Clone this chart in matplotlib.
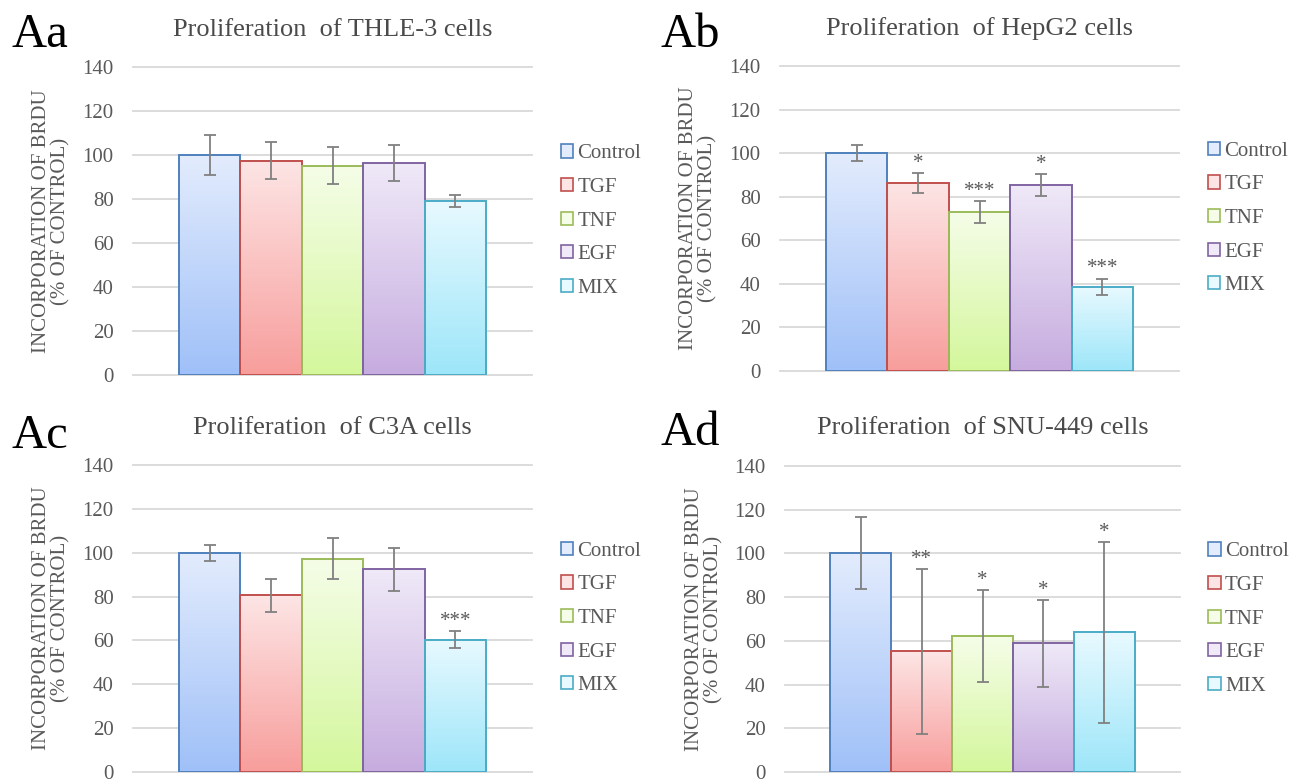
import numpy as np
import matplotlib
matplotlib.use("Agg")
import matplotlib.pyplot as plt
from matplotlib.colors import LinearSegmentedColormap
from matplotlib.patches import Rectangle

plt.rcParams['font.family'] = ['Liberation Serif', 'DejaVu Serif']

# data
groups = ['Control', 'TGF', 'TNF', 'EGF', 'MIX']

thle3 = [100, 97.5, 95.2, 96.3, 79.1]
thle3_err = [9.0, 8.5, 8.6, 8.1, 2.7]
thle3_stars = ['', '', '', '', '']

hepg2 = [100, 86.2, 72.9, 85.4, 38.7]
hepg2_err = [3.7, 4.5, 5.1, 5.1, 3.7]
hepg2_stars = ['', '*', '***', '*', '***']

c3a = [100, 80.6, 97.3, 92.5, 60.3]
c3a_err = [3.7, 7.5, 9.2, 9.8, 3.8]
c3a_stars = ['', '', '', '', '***']

snu449 = [100, 55.2, 62.1, 58.9, 63.9]
snu449_err = [16.5, 37.6, 21.0, 19.8, 41.3]
snu449_stars = ['', '**', '*', '*', '*']

yticks = [0, 20, 40, 60, 80, 100, 120, 140]

# (top colour, bottom colour, edge colour)
colors = [('#e3ecfd', '#9fc0f8', '#4f81bd'),
          ('#fde5e5', '#f79e9c', '#c0504d'),
          ('#f5fde8', '#d4f79c', '#9bbb59'),
          ('#efe9f8', '#c6acdf', '#8064a2'),
          ('#e8f9ff', '#9de6f9', '#4bacc6')]

TXT = '#595959'


def plot_panel(ax, vals, errs, stars, title, tag, tag_xy):
    x = np.arange(len(groups))
    bars = ax.bar(x, vals, width=1.0, facecolor='none', zorder=3)
    for b, (top, bot, edge) in zip(bars, colors):
        b.set_edgecolor(edge)
        b.set_linewidth(1.4)
        cmap = LinearSegmentedColormap.from_list('g', [top, bot])
        grad = np.linspace(0, 1, 256).reshape(-1, 1)
        im = ax.imshow(grad, cmap=cmap, aspect='auto', interpolation='bicubic',
                       extent=[b.get_x(), b.get_x() + b.get_width(), 0, b.get_height()],
                       zorder=2)
        im.set_clip_path(b)
    ax.errorbar(x, vals, yerr=errs, fmt='none', ecolor='#808080', elinewidth=1.3,
                capsize=4, capthick=1.3, zorder=4)
    for xi, v, e, s in zip(x, vals, errs, stars):
        if s:
            ax.annotate(s, xy=(xi, v + e), xytext=(0, 7), textcoords='offset points',
                        ha='center', va='center', fontsize=15, color=TXT)

    ax.set_xlim(-1.245, len(groups) - 1 + 1.245)
    ax.set_ylim(0, 140)
    ax.set_yticks(yticks)
    ax.set_xticks([])
    for t in yticks:
        ax.axhline(t, color='#d9d9d9', lw=1.3, zorder=0, clip_on=False)
    ax.tick_params(axis='y', length=0, pad=14, labelsize=15, labelcolor=TXT)
    for s in ax.spines.values():
        s.set_visible(False)

    ax.annotate(title, xy=(0.5, 1), xycoords='axes fraction', xytext=(0, 27),
                textcoords='offset points', ha='center', va='center',
                fontsize=19, color='#4a4a4a')
    ax.text(-0.205, 0.5, 'INCORPORATION OF BRDU\n(% OF CONTROL)', rotation=90,
            transform=ax.transAxes, ha='center', va='center', fontsize=15,
            color=TXT, linespacing=1.0)

    handles = [Rectangle((0, 0), 1, 1, facecolor=top, edgecolor=edge, lw=1.2)
               for top, bot, edge in colors]
    ax.legend(handles, groups, loc='center left', bbox_to_anchor=(1.072, 0.5),
              frameon=False, fontsize=15, labelcolor=TXT, handlelength=0.6,
              handleheight=0.6, handletextpad=0.2, labelspacing=0.7,
              borderpad=0, borderaxespad=0)

    fig.text(tag_xy[0] / 1299, 1 - tag_xy[1] / 784, tag, fontsize=35,
             color='black', va='baseline', ha='left')


fig = plt.figure(figsize=(12.99, 7.84), dpi=100)

ax1 = fig.add_axes([133 / 1299, 1 - 375 / 784, 399 / 1299, 308 / 784])
ax2 = fig.add_axes([780 / 1299, 1 - 371 / 784, 399 / 1299, 305 / 784])
ax3 = fig.add_axes([133 / 1299, 1 - 772 / 784, 399 / 1299, 307 / 784])
ax4 = fig.add_axes([785 / 1299, 1 - 772 / 784, 395 / 1299, 306 / 784])

plot_panel(ax1, thle3, thle3_err, thle3_stars, 'Proliferation  of THLE-3 cells', 'Aa', (12, 47))
plot_panel(ax2, hepg2, hepg2_err, hepg2_stars, 'Proliferation  of HepG2 cells', 'Ab', (660, 47))
plot_panel(ax3, c3a, c3a_err, c3a_stars, 'Proliferation  of C3A cells', 'Ac', (12, 448))
plot_panel(ax4, snu449, snu449_err, snu449_stars, 'Proliferation  of SNU-449 cells', 'Ad', (660, 445))

plt.savefig('out.png', dpi=100)
